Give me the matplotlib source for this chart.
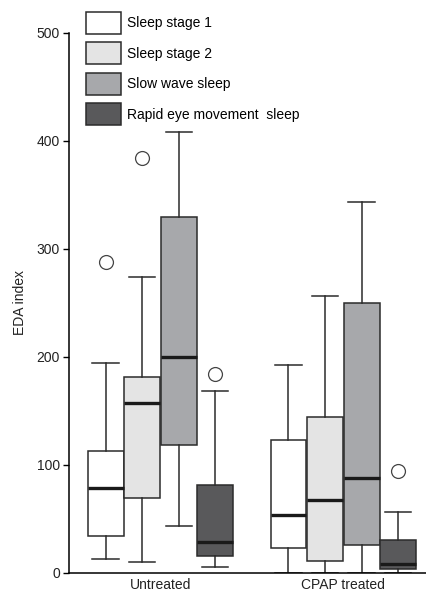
import numpy as np
import matplotlib
matplotlib.use("Agg")
import matplotlib.pyplot as plt
from matplotlib.patches import Patch

plt.rcParams['font.family'] = ['Liberation Sans', 'DejaVu Sans']

groups = ['Untreated', 'CPAP treated']
stages = ['Sleep stage 1', 'Sleep stage 2', 'Slow wave sleep', 'Rapid eye movement  sleep']
colors = ['#ffffff', '#e4e4e4', '#a7a8ab', '#59595b']

# per group, per stage: whisker low, Q1, median, Q3, whisker high
untreated_low = [13, 10, 43, 5]
untreated_q1 = [34, 69, 118, 15]
untreated_med = [78, 157, 200, 28]
untreated_q3 = [113, 181, 329, 81]
untreated_high = [194, 274, 408, 168]
untreated_fliers = [[288], [384], [], [184]]

cpap_low = [0, 0, 0, 0]
cpap_q1 = [23, 11, 26, 3]
cpap_med = [53, 67, 88, 8]
cpap_q3 = [123, 144, 250, 30]
cpap_high = [192, 256, 343, 56]
cpap_fliers = [[], [], [], [94]]

group_data = [
    (untreated_low, untreated_q1, untreated_med, untreated_q3, untreated_high, untreated_fliers),
    (cpap_low, cpap_q1, cpap_med, cpap_q3, cpap_high, cpap_fliers),
]

fig = plt.figure(figsize=(4.26, 5.91), dpi=100)
ax = fig.add_axes([0.162, 0.031, 0.838, 0.914])

offsets = [-1.5, -0.5, 0.5, 1.5]
centers = [0, 5]
edge = '#2b2b2b'

for gi, (lo, q1, med, q3, hi, fl) in enumerate(group_data):
    for si in range(4):
        st = [dict(whislo=lo[si], q1=q1[si], med=med[si], q3=q3[si], whishi=hi[si], fliers=fl[si])]
        ax.bxp(st, positions=[centers[gi] + offsets[si]], widths=0.98, patch_artist=True,
               showfliers=True, manage_ticks=False,
               boxprops=dict(facecolor=colors[si], edgecolor=edge, linewidth=1.1),
               medianprops=dict(color='#1a1a1a', linewidth=2.4),
               whiskerprops=dict(color=edge, linewidth=1.1),
               capprops=dict(color=edge, linewidth=1.1),
               capwidths=0.72,
               flierprops=dict(marker='o', markerfacecolor='white', markeredgecolor='#444444',
                               markersize=10, markeredgewidth=0.9))

ax.set_xlim(-2.5, 7.26)
ax.set_ylim(0, 500)
ax.set_yticks([0, 100, 200, 300, 400, 500])
ax.set_xticks(centers)
ax.set_xticklabels(groups, fontsize=10, color='#222222')
ax.tick_params(axis='x', length=0, pad=4)
ax.tick_params(axis='y', length=4.5, width=1, labelsize=10, labelcolor='#222222', pad=2)
ax.spines['top'].set_visible(False)
ax.spines['right'].set_visible(False)
ax.spines['left'].set_linewidth(1.1)
ax.spines['bottom'].set_linewidth(1.1)
ax.set_ylabel('EDA index', fontsize=10, color='#222222', labelpad=7)

handles = [Patch(facecolor=c, edgecolor=edge, linewidth=1.1) for c in colors]
fig.legend(handles, stages, loc='upper left', bbox_to_anchor=(86 / 426, 1 - 12 / 591),
           frameon=False, fontsize=10, handlelength=2.52, handleheight=2.06,
           labelspacing=0.61, handletextpad=0.45, borderpad=0, borderaxespad=0)

fig.savefig('out.png', dpi=100)
